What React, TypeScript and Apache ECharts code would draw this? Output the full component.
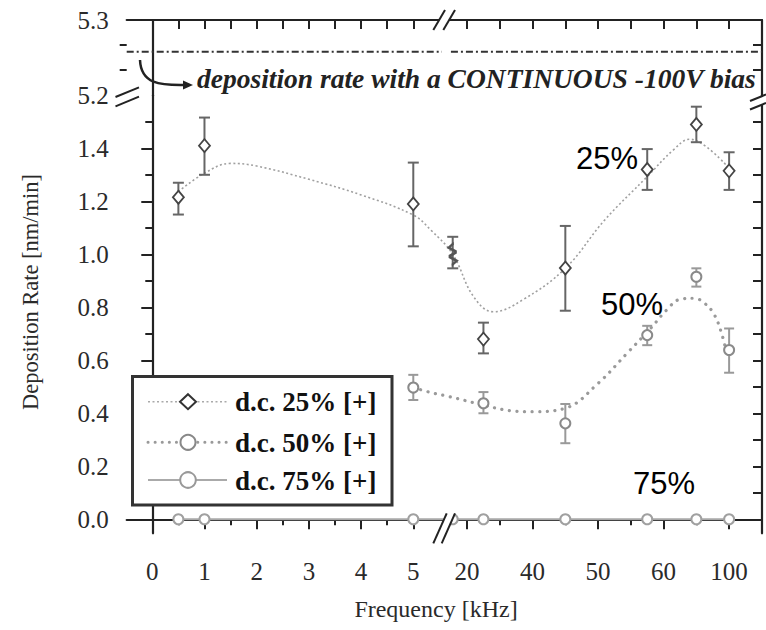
import React, { useEffect, useRef } from "react";
import * as echarts from "echarts";

// ---- axis definition (broken frequency axis) ----
const tickFreqs = [0, 1, 2, 3, 4, 5, 20, 40, 50, 60, 100];
const minorFreqs = [0.5, 1.5, 2.5, 3.5, 4.5, 30, 45, 55, 80];
const scaleFreq = [0, 5, 20, 40, 50, 60, 100];
const scalePos = [0, 5, 6.03, 7.285, 8.54, 9.795, 11.05];
const X_MIN = -0.49;
const X_MAX = 11.68;

// ---- y axis ticks ----
const yMajor = [0, 0.2, 0.4, 0.6, 0.8, 1.0, 1.2, 1.4];
const yMinor = [0.1, 0.3, 0.5, 0.7, 0.9, 1.1, 1.3, 1.5];
const yRight = [0, 0.1, 0.2, 0.3, 0.4, 0.5, 0.6, 0.7, 0.8, 0.9, 1.0, 1.1, 1.2, 1.3, 1.4, 1.5];
const yTopLabels = [5.2, 5.3];
const yTopMajor = [5.3];
const yTopMinor = [5.2333, 5.2667];
const Y_MIN = -0.053;
const Y_BREAK = 1.6;

// ---- data ----
const freq = [0.5, 1, 5, 16, 25, 45, 57.5, 80, 100];
const dc25 = [1.215, 1.41, 1.19, 1.0, 0.68, 0.948, 1.32, 1.49, 1.315];
const dc25Low = [1.15, 1.3, 1.03, 0.947, 0.626, 0.787, 1.243, 1.423, 1.243];
const dc25High = [1.27, 1.516, 1.346, 1.066, 0.742, 1.107, 1.397, 1.557, 1.385];

const freq50 = [5, 25, 45, 57.5, 80, 100];
const dc50 = [0.497, 0.438, 0.362, 0.695, 0.915, 0.639];
const dc50Low = [0.45, 0.4, 0.287, 0.657, 0.878, 0.553];
const dc50High = [0.545, 0.48, 0.435, 0.73, 0.947, 0.72];

const dc75 = [0, 0, 0, 0, 0, 0, 0, 0, 0];

// fitted guide curves
const fit25F = [0.5, 1, 1.5, 2, 3, 4, 5, 10, 16, 22, 28, 37, 45, 51, 57.5, 66, 76, 86, 98];
const fit25V = [1.236, 1.306, 1.343, 1.333, 1.283, 1.224, 1.148, 1.09, 1.0, 0.84, 0.783, 0.828, 0.947, 1.129, 1.293, 1.394, 1.434, 1.406, 1.338];
const fit50F = [5, 10, 15, 25, 33, 40, 45, 50, 54.4, 58, 61.9, 70, 79, 85, 90.5, 95, 98.5];
const fit50V = [0.497, 0.478, 0.463, 0.431, 0.41, 0.406, 0.419, 0.513, 0.626, 0.72, 0.79, 0.83, 0.834, 0.815, 0.777, 0.71, 0.626];

const continuousRate = 5.258;
const biasGapFreq = [13, 15.5];

function pos(f: number): number {
  for (let i = 0; i < scaleFreq.length - 1; i++) {
    if (f <= scaleFreq[i + 1] || i === scaleFreq.length - 2) {
      const t = (f - scaleFreq[i]) / (scaleFreq[i + 1] - scaleFreq[i]);
      return scalePos[i] + t * (scalePos[i + 1] - scalePos[i]);
    }
  }
  return 0;
}

const SERIF = "Liberation Serif";
const SANS = "Liberation Sans";
const AX = "#222";

function errRender(color: string, hw: number) {
  return (params: any, api: any) => {
    const x = api.value(0);
    const lo = api.coord([x, api.value(1)]);
    const hi = api.coord([x, api.value(2)]);
    const st = { stroke: color, lineWidth: 2 };
    return {
      type: "group",
      children: [
        { type: "line", shape: { x1: lo[0], y1: lo[1], x2: hi[0], y2: hi[1] }, style: st },
        { type: "line", shape: { x1: lo[0] - hw, y1: lo[1], x2: lo[0] + hw, y2: lo[1] }, style: st },
        { type: "line", shape: { x1: hi[0] - hw, y1: hi[1], x2: hi[0] + hw, y2: hi[1] }, style: st },
      ],
    };
  };
}

export default function App() {
  const ref = useRef<HTMLDivElement>(null);
  useEffect(() => {
    document.body.style.margin = "0";
    if (!ref.current) return;
    const chart = echarts.init(ref.current, null, { renderer: "svg" });

    const tickPos = tickFreqs.map(pos);
    const minorPos = minorFreqs.map(pos);
    const allPos = tickPos.concat(minorPos);
    const labelOf = (v: number) => {
      const i = tickPos.findIndex((p) => Math.abs(p - v) < 1e-6);
      return i >= 0 ? String(tickFreqs[i]) : "";
    };

    const baseX = { type: "value", min: X_MIN, max: X_MAX, splitLine: { show: false } };
    const lineOn = { show: true, lineStyle: { color: AX, width: 2.2 } };
    const off = { show: false };

    const zig = "path://M5,0 L0,5 L8,10 L0,15 L8,20 L3,25";

    const option: any = {
      animation: false,
      grid: [
        { left: 126.7, right: 4, top: 20, height: 75.3 },
        { left: 126.7, right: 4, top: 95.3, height: 438 },
      ],
      xAxis: [
        {
          ...baseX, gridIndex: 1, position: "bottom",
          axisLine: lineOn,
          axisTick: { show: true, length: 10, customValues: tickPos, lineStyle: { color: AX, width: 2 } },
          axisLabel: { show: true, customValues: tickPos, formatter: labelOf, margin: 26, fontSize: 25, fontFamily: SERIF, color: "#2a2a2a" },
        },
        {
          ...baseX, gridIndex: 1, position: "bottom",
          axisLine: off,
          axisTick: { show: true, length: 6, customValues: minorPos, lineStyle: { color: AX, width: 2 } },
          axisLabel: off,
        },
        {
          ...baseX, gridIndex: 0, position: "top",
          axisLine: lineOn,
          axisTick: { show: true, inside: true, length: 9, customValues: allPos, lineStyle: { color: AX, width: 2 } },
          axisLabel: off,
        },
      ],
      yAxis: [
        {
          type: "value", gridIndex: 1, position: "left", min: Y_MIN, max: Y_BREAK, splitLine: off,
          axisLine: lineOn,
          axisTick: { show: true, length: 11, customValues: yMajor, lineStyle: { color: AX, width: 2 } },
          axisLabel: { show: true, customValues: yMajor, formatter: (v: number) => v.toFixed(1), margin: 18, fontSize: 25, fontFamily: SERIF, color: "#2a2a2a" },
        },
        {
          type: "value", gridIndex: 1, position: "left", min: Y_MIN, max: Y_BREAK, splitLine: off,
          axisLine: off,
          axisTick: { show: true, length: 7, customValues: yMinor, lineStyle: { color: AX, width: 2 } },
          axisLabel: off,
        },
        {
          type: "value", gridIndex: 1, position: "right", min: Y_MIN, max: Y_BREAK, splitLine: off,
          axisLine: lineOn,
          axisTick: { show: true, inside: true, length: 9, customValues: yRight, lineStyle: { color: AX, width: 2 } },
          axisLabel: off,
        },
        {
          type: "value", gridIndex: 0, position: "left", min: 5.2, max: 5.3, splitLine: off,
          axisLine: lineOn,
          axisTick: { show: true, length: 11, customValues: yTopMajor, lineStyle: { color: AX, width: 2 } },
          axisLabel: { show: true, customValues: yTopLabels, formatter: (v: number) => v.toFixed(1), margin: 18, fontSize: 25, fontFamily: SERIF, color: "#2a2a2a" },
        },
        {
          type: "value", gridIndex: 0, position: "left", min: 5.2, max: 5.3, splitLine: off,
          axisLine: off,
          axisTick: { show: true, length: 7, customValues: yTopMinor, lineStyle: { color: AX, width: 2 } },
          axisLabel: off,
        },
        {
          type: "value", gridIndex: 0, position: "right", min: 5.2, max: 5.3, splitLine: off,
          axisLine: lineOn,
          axisTick: { show: true, inside: true, length: 9, customValues: yTopMinor, lineStyle: { color: AX, width: 2 } },
          axisLabel: off,
        },
      ],
      series: [
        {
          name: "bias", type: "line", xAxisIndex: 2, yAxisIndex: 3, showSymbol: false, silent: true,
          lineStyle: { color: "#333", width: 2, type: [7, 3, 2, 3] },
          data: [
            [X_MIN, continuousRate],
            [pos(biasGapFreq[0]), continuousRate],
            [pos(biasGapFreq[0]), "-"],
            [pos(biasGapFreq[1]), continuousRate],
            [X_MAX, continuousRate],
          ],
        },
        {
          name: "fit25", type: "line", xAxisIndex: 0, yAxisIndex: 0, showSymbol: false, smooth: 0.4, silent: true,
          lineStyle: { color: "#a0a0a0", width: 1.6, type: [2, 2.5] },
          data: fit25F.map((f, i) => [pos(f), fit25V[i]]),
          z: 1,
        },
        {
          name: "fit50", type: "line", xAxisIndex: 0, yAxisIndex: 0, showSymbol: false, smooth: 0.4, silent: true,
          lineStyle: { color: "#9a9a9a", width: 3.2, type: [0.1, 7.5], cap: "round" },
          data: fit50F.map((f, i) => [pos(f), fit50V[i]]),
          z: 1,
        },
        {
          name: "d.c. 75% [+]", type: "line", xAxisIndex: 0, yAxisIndex: 0,
          symbol: "circle", symbolSize: 10,
          lineStyle: { color: "#a8a8a8", width: 2 },
          itemStyle: { color: "#fff", borderColor: "#a0a0a0", borderWidth: 2 },
          data: freq.map((f, i) => [pos(f), dc75[i]]),
          z: 3,
        },
        {
          name: "err25", type: "custom", xAxisIndex: 0, yAxisIndex: 0,
          renderItem: errRender("#666", 5.5),
          encode: { x: 0, y: [1, 2] },
          data: freq.map((f, i) => [pos(f), dc25Low[i], dc25High[i]]),
          z: 4,
        },
        {
          name: "err50", type: "custom", xAxisIndex: 0, yAxisIndex: 0,
          renderItem: errRender("#999", 5),
          encode: { x: 0, y: [1, 2] },
          data: freq50.map((f, i) => [pos(f), dc50Low[i], dc50High[i]]),
          z: 4,
        },
        {
          name: "d.c. 25% [+]", type: "scatter", xAxisIndex: 0, yAxisIndex: 0,
          symbol: "diamond", symbolSize: [11, 13],
          itemStyle: { color: "#fff", borderColor: "#444", borderWidth: 1.8, opacity: 1 },
          data: freq.map((f, i) =>
            f > 5 && f < 20
              ? { value: [pos(f), dc25[i]], symbol: zig, symbolSize: [8, 22], itemStyle: { color: "none", borderColor: "#555", borderWidth: 1.8 } }
              : { value: [pos(f), dc25[i]] }
          ),
          z: 5,
        },
        {
          name: "d.c. 50% [+]", type: "scatter", xAxisIndex: 0, yAxisIndex: 0,
          symbol: "circle", symbolSize: 10,
          itemStyle: { color: "#fff", borderColor: "#8a8a8a", borderWidth: 2, opacity: 1 },
          data: freq50.map((f, i) => [pos(f), dc50[i]]),
          z: 5,
        },
      ],
      graphic: [
        // break marks: bottom axis
        { type: "polygon", z: 100, shape: { points: [[434, 545], [447.5, 511], [455, 511], [441.5, 545]] }, style: { fill: "#fff" } },
        { type: "line", z: 101, shape: { x1: 433.3, y1: 543.3, x2: 446.7, y2: 513.3 }, style: { stroke: AX, lineWidth: 2 } },
        { type: "line", z: 101, shape: { x1: 441.7, y1: 543.3, x2: 455, y2: 513.3 }, style: { stroke: AX, lineWidth: 2 } },
        // top axis
        { type: "polygon", z: 100, shape: { points: [[434, 30], [445.5, 10], [454.5, 10], [443, 30]] }, style: { fill: "#fff" } },
        { type: "line", z: 101, shape: { x1: 433.3, y1: 30, x2: 445, y2: 10 }, style: { stroke: AX, lineWidth: 2 } },
        { type: "line", z: 101, shape: { x1: 443.3, y1: 30, x2: 455, y2: 10 }, style: { stroke: AX, lineWidth: 2 } },
        // left axis
        { type: "polygon", z: 100, shape: { points: [[116, 97], [139, 87.5], [139, 96.5], [116, 106]] }, style: { fill: "#fff" } },
        { type: "line", z: 101, shape: { x1: 115.5, y1: 97, x2: 139, y2: 87.3 }, style: { stroke: AX, lineWidth: 2 } },
        { type: "line", z: 101, shape: { x1: 115.5, y1: 106.3, x2: 139, y2: 96.6 }, style: { stroke: AX, lineWidth: 2 } },
        // right axis
        { type: "polygon", z: 100, shape: { points: [[750, 101], [766, 94.5], [766, 103], [750, 109.5]] }, style: { fill: "#fff" } },
        { type: "line", z: 101, shape: { x1: 750, y1: 101, x2: 766, y2: 94.5 }, style: { stroke: AX, lineWidth: 2 } },
        { type: "line", z: 101, shape: { x1: 750, y1: 109.5, x2: 766, y2: 103 }, style: { stroke: AX, lineWidth: 2 } },

        // annotation
        {
          type: "text", z: 102, x: 197, y: 78,
          style: { text: "deposition rate with a CONTINUOUS -100V bias", fontFamily: SERIF, fontSize: 27.5, fontWeight: "bold", fontStyle: "italic", fill: "#222", align: "left", verticalAlign: "middle" },
        },
        { type: "bezierCurve", z: 102, shape: { x1: 140, y1: 60, cpx1: 141, cpy1: 84, cpx2: 160, cpy2: 85.5, x2: 185, y2: 85 }, style: { stroke: "#222", lineWidth: 2.5, fill: "none" } },
        { type: "polygon", z: 102, shape: { points: [[193, 85], [183, 80.5], [183, 89.5]] }, style: { fill: "#222" } },

        // series labels
        { type: "text", z: 102, x: 607, y: 158, style: { text: "25%", fontFamily: SANS, fontSize: 31, fill: "#000", align: "center", verticalAlign: "middle" } },
        { type: "text", z: 102, x: 632, y: 304, style: { text: "50%", fontFamily: SANS, fontSize: 31, fill: "#000", align: "center", verticalAlign: "middle" } },
        { type: "text", z: 102, x: 664, y: 483, style: { text: "75%", fontFamily: SANS, fontSize: 31, fill: "#000", align: "center", verticalAlign: "middle" } },

        // axis titles
        { type: "text", z: 102, x: 30, y: 292, rotation: Math.PI / 2, style: { text: "Deposition Rate [nm/min]", fontFamily: SERIF, fontSize: 22.5, fill: "#2a2a2a", align: "center", verticalAlign: "middle" } },
        { type: "text", z: 102, x: 436, y: 609, style: { text: "Frequency [kHz]", fontFamily: SERIF, fontSize: 24, fill: "#2a2a2a", align: "center", verticalAlign: "middle" } },

        // legend
        { type: "rect", z: 102, shape: { x: 132.5, y: 376.5, width: 259.5, height: 128.5 }, style: { fill: "#fff", stroke: "#333", lineWidth: 3 } },
        { type: "line", z: 103, shape: { x1: 148, y1: 401.7, x2: 227, y2: 401.7 }, style: { stroke: "#aaa", lineWidth: 1.6, lineDash: [2, 2.5] } },
        { type: "polygon", z: 104, shape: { points: [[188, 394.2], [196, 401.7], [188, 409.2], [180, 401.7]] }, style: { fill: "#fff", stroke: "#333", lineWidth: 2 } },
        { type: "line", z: 103, shape: { x1: 148, y1: 442.3, x2: 227, y2: 442.3 }, style: { stroke: "#999", lineWidth: 3, lineDash: [0.1, 7], lineCap: "round" } },
        { type: "circle", z: 104, shape: { cx: 188, cy: 442.3, r: 7.5 }, style: { fill: "#fff", stroke: "#888", lineWidth: 2 } },
        { type: "line", z: 103, shape: { x1: 148, y1: 480, x2: 227, y2: 480 }, style: { stroke: "#aaa", lineWidth: 2 } },
        { type: "circle", z: 104, shape: { cx: 188, cy: 480, r: 7.8 }, style: { fill: "#fff", stroke: "#999", lineWidth: 2 } },
        { type: "text", z: 104, x: 235, y: 402, style: { text: "d.c. 25% [+]", fontFamily: SERIF, fontSize: 27, fontWeight: "bold", fill: "#111", align: "left", verticalAlign: "middle" } },
        { type: "text", z: 104, x: 235, y: 442.5, style: { text: "d.c. 50% [+]", fontFamily: SERIF, fontSize: 27, fontWeight: "bold", fill: "#111", align: "left", verticalAlign: "middle" } },
        { type: "text", z: 104, x: 235, y: 480.5, style: { text: "d.c. 75% [+]", fontFamily: SERIF, fontSize: 27, fontWeight: "bold", fill: "#111", align: "left", verticalAlign: "middle" } },
      ],
    };
    chart.setOption(option);
    return () => chart.dispose();
  }, []);
  return <div ref={ref} style={{ width: 766, height: 630 }} />;
}
